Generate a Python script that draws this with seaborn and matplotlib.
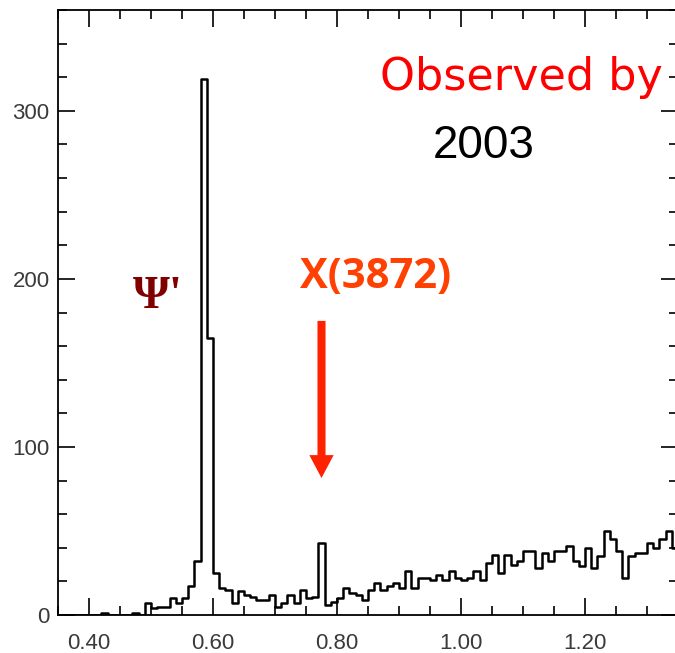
import numpy as np
import pandas as pd
import matplotlib
matplotlib.use("Agg")
import matplotlib.pyplot as plt
from matplotlib.ticker import MultipleLocator, FormatStrFormatter
import seaborn as sns

# Invariant-mass difference histogram (bins of 0.01 from 0.35 to 1.35)
bin_start = 0.35
bin_stop = 1.35
counts = [
    0, 0, 0, 0, 0, 0, 0, 1, 0, 0,          # 0.35 - 0.44
    0, 0, 1, 0, 7, 4, 5, 5, 10, 7,         # 0.45 - 0.54
    10, 17, 32, 319, 165, 25, 16, 15, 7, 14,  # 0.55 - 0.64
    12, 11, 9, 9, 12, 5, 7, 12, 7, 15,     # 0.65 - 0.74
    10, 11, 43, 6, 8, 10, 16, 13, 12, 9,   # 0.75 - 0.84
    15, 19, 15, 17, 19, 16, 26, 16, 22, 22,  # 0.85 - 0.94
    21, 24, 21, 26, 22, 21, 22, 26, 21, 31,  # 0.95 - 1.04
    36, 25, 36, 30, 32, 38, 38, 28, 37, 32,  # 1.05 - 1.14
    38, 38, 41, 32, 29, 40, 28, 35, 50, 45,  # 1.15 - 1.24
    38, 22, 35, 37, 37, 43, 40, 45, 50, 40,  # 1.25 - 1.34
]

x_ticks = [0.40, 0.60, 0.80, 1.00, 1.20]
y_ticks = [0, 100, 200, 300]

edges = np.linspace(bin_start, bin_stop, len(counts) + 1)
centers = (edges[:-1] + edges[1:]) / 2
df = pd.DataFrame({"mass": centers, "events": counts})

sns.set_theme(style="ticks")
plt.rcParams["font.family"] = ["Liberation Sans", "DejaVu Sans"]

W, H = 675, 653
fig = plt.figure(figsize=(W / 100, H / 100), dpi=100)
ax = fig.add_axes([58 / W, 38 / H, (678 - 58) / W, (643 - 38) / H])

sns.histplot(data=df, x="mass", weights="events", bins=edges.tolist(),
             element="step", fill=False, color="black", linewidth=1.8, ax=ax)

ax.set_xlim(bin_start, bin_stop)
ax.set_ylim(0, 360)
ax.set_xlabel("")
ax.set_ylabel("")

ax.set_xticks(x_ticks)
ax.set_yticks(y_ticks)
ax.xaxis.set_major_formatter(FormatStrFormatter("%.2f"))
ax.xaxis.set_minor_locator(MultipleLocator(0.05))
ax.yaxis.set_minor_locator(MultipleLocator(20))

for side in ["left", "bottom", "top", "right"]:
    ax.spines[side].set_visible(True)
    ax.spines[side].set_linewidth(1.3)
    ax.spines[side].set_color("black")

ax.tick_params(which="both", direction="in", top=True, right=True,
               colors="black", width=1.2)
ax.tick_params(which="major", length=12.5, labelsize=16,
               labelcolor="#3a3a3a")
ax.tick_params(axis="x", which="major", pad=13)
ax.tick_params(axis="y", which="major", pad=6)
ax.tick_params(which="minor", length=6.5)

# Annotations
ax.text(1.098, 312.5, "Observed by", color="#ff0000", fontsize=32,
        ha="center", va="baseline", family=["DejaVu Sans"])
ax.text(1.037, 272, "2003", color="black", fontsize=33,
        ha="center", va="baseline", family=["Liberation Sans"])
ax.text(0.863, 194.6, "X(3872)", color="#ff4000", fontsize=30,
        fontweight="bold", ha="center", va="baseline",
        family=["Open Sans", "DejaVu Sans"])
ax.text(0.511, 182.7, "\u03a8'", color="#800000", fontsize=34,
        fontweight="bold", ha="center", va="baseline",
        family=["Liberation Serif", "DejaVu Serif"])

ax.annotate("", xy=(0.775, 81.5), xytext=(0.775, 175),
            arrowprops=dict(facecolor="#ff2200", edgecolor="none",
                            width=5.8, headwidth=17.5, headlength=16.5,
                            shrink=0.0))

fig.savefig("out.png", dpi=100)
